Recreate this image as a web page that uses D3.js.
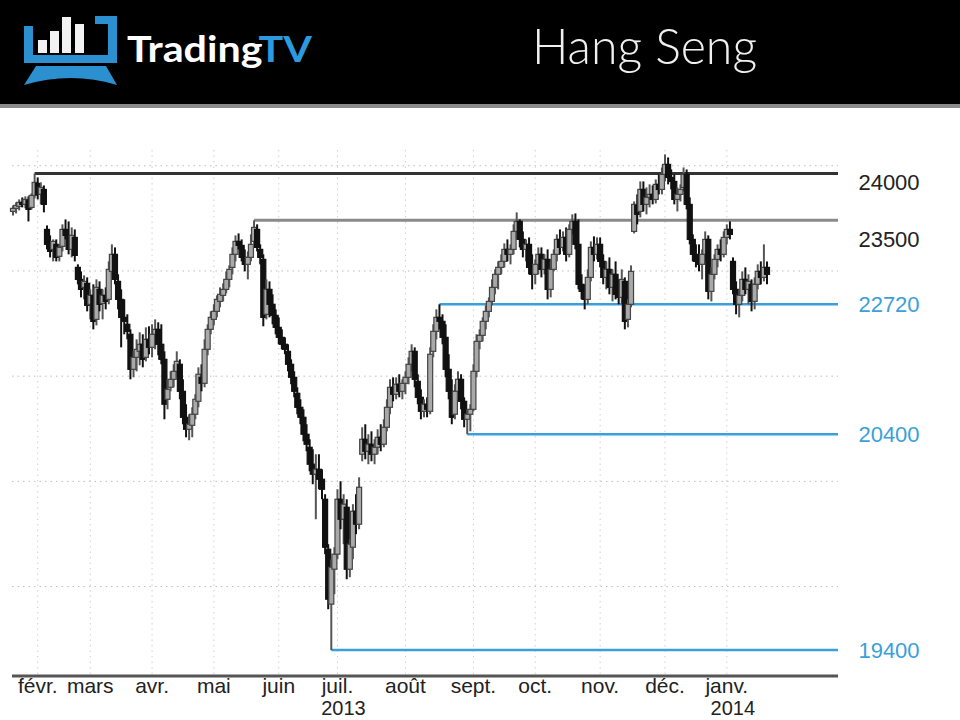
<!DOCTYPE html>
<html>
<head>
<meta charset="utf-8">
<script src="https://cdn.jsdelivr.net/npm/d3@7"></script>
<style>
  html, body { margin: 0; padding: 0; background: #fff; }
  svg { display: block; }
</style>
</head>
<body>
<div id="chart"></div>
<script>
// Hang Seng daily candles, late Jan 2013 -> late Jan 2014, [open, high, low, close]
const candles = [
  [23566,23623,23528,23595],[23595,23652,23547,23623],[23614,23680,23576,23652],[23652,23699,23604,23633],[23633,23709,23595,23680],
  [23671,23709,23471,23585],[23604,23737,23585,23718],[23718,23927,23690,23842],[23832,23889,23680,23728],[23728,23842,23633,23794],
  [23775,23813,23557,23633],[23395,23433,23205,23253],[23262,23338,23129,23186],[23205,23300,23091,23281],[23253,23300,23091,23129],
  [23139,23253,23091,23224],[23234,23443,23186,23395],[23395,23490,23300,23338],[23338,23471,23158,23205],[23205,23414,23129,23338],
  [23319,23395,23091,23148],[23034,23063,22873,22920],[22920,22996,22749,22825],[22844,22958,22730,22901],[22882,22939,22616,22673],
  [22683,22825,22540,22768],[22768,22873,22445,22521],[22540,22920,22483,22844],[22825,22901,22616,22683],[22692,22825,22540,22768],
  [22768,22844,22635,22711],[22730,23091,22683,23015],[22996,23253,22939,23158],[23158,23224,22873,22920],[22901,22968,22635,22730],
  [22730,22825,22274,22559],[22559,22730,22398,22521],[22493,22588,22350,22426],[22398,22445,21970,22065],[22065,22236,21989,22179],
  [22179,22350,22046,22255],[22236,22417,22103,22303],[22303,22398,22084,22160],[22179,22464,22141,22350],[22350,22474,22208,22274],
  [22274,22493,22179,22398],[22398,22540,22255,22445],[22445,22512,22198,22303],[22303,22493,22113,22160],[22160,22236,21590,21733],
  [21780,21970,21685,21875],[21894,22046,21856,21970],[21970,22113,21894,22046],[22046,22236,21989,22141],[22113,22160,21780,21856],
  [21856,21970,21543,21609],[21609,21733,21419,21495],[21495,21638,21391,21543],[21533,21704,21419,21638],[21638,21828,21590,21780],
  [21761,22084,21704,22018],[21989,22113,21856,21932],[21932,22350,21894,22255],[22255,22493,22198,22445],[22445,22616,22398,22559],
  [22540,22683,22483,22616],[22616,22768,22559,22730],[22711,22844,22654,22778],[22768,22882,22711,22825],[22825,22996,22787,22920],
  [22920,23053,22844,23015],[23034,23224,22968,23158],[23158,23338,23091,23281],[23281,23357,23205,23243],[23243,23300,23091,23129],
  [23129,23205,22996,23063],[23063,23186,22920,23129],[23129,23348,23091,23253],[23281,23481,23224,23414],[23395,23443,23186,23224],
  [23205,23253,23063,23129],[23110,23158,22474,22559],[22588,22920,22540,22825],[22825,22901,22559,22683],[22683,22778,22493,22578],
  [22578,22635,22398,22464],[22464,22559,22303,22369],[22369,22445,22255,22303],[22303,22369,22208,22255],[22236,22303,22046,22113],
  [22113,22160,21923,21989],[21989,22046,21799,21856],[21837,21894,21638,21704],[21704,21780,21543,21609],[21609,21685,21381,21448],
  [21448,21543,21286,21353],[21324,21400,21096,21163],[21163,21305,20973,21068],[21068,21258,20640,21115],[21115,21258,20925,21020],
  [21020,21115,20830,20925],[20830,20878,20308,20374],[20355,20403,19785,19880],[19833,20260,19396,20184],[20165,20374,19928,20308],
  [20308,20925,20260,20830],[20830,21001,20545,20640],[20640,20878,20403,20783],[20754,20830,20070,20165],[20165,20450,20089,20403],
  [20374,20783,20260,20716],[20716,20878,20498,20593],[20593,21039,20545,20944],[21258,21514,21191,21400],[21400,21543,21210,21286],
  [21286,21448,21163,21353],[21353,21476,21191,21258],[21258,21400,21163,21324],[21324,21495,21258,21419],[21419,21543,21286,21353],
  [21353,21590,21324,21514],[21514,21780,21476,21704],[21704,21970,21638,21894],[21894,21989,21761,21828],[21828,21989,21780,21923],
  [21923,22018,21799,21856],[21856,21970,21780,21932],[21932,22046,21828,21989],[21989,22179,21923,22113],[22113,22303,22046,22236],
  [22236,22274,21894,21970],[21951,22018,21733,21799],[21799,21875,21590,21666],[21666,21780,21609,21733],[21733,21799,21609,21685],
  [21666,22274,21638,22208],[22236,22493,22179,22426],[22426,22635,22350,22559],[22559,22683,22445,22521],[22521,22588,22303,22369],
  [22369,22493,21989,22065],[22065,22208,21780,21856],[21856,21970,21543,21609],[21638,21923,21590,21856],[21856,22046,21780,21970],
  [21970,22018,21685,21761],[21761,21799,21514,21590],[21590,21685,21448,21638],[21638,21733,21476,21685],[21685,22113,21666,22046],
  [22046,22398,21989,22331],[22331,22445,22255,22388],[22388,22559,22331,22521],[22521,22673,22445,22616],[22616,22749,22559,22711],
  [22711,22920,22673,22844],[22844,23015,22778,22968],[22968,23091,22825,23034],[23034,23158,22968,23091],[23091,23262,23034,23205],
  [23205,23300,23091,23158],[23158,23253,23063,23205],[23205,23443,23158,23376],[23376,23557,23300,23471],[23471,23490,23224,23300],
  [23300,23376,23129,23205],[23205,23300,23091,23253],[23253,23319,22968,23034],[23034,23158,22825,22968],[22968,23110,22873,23063],
  [23063,23224,22968,23158],[23158,23224,22939,23015],[23015,23158,22968,23110],[23110,23205,22730,22825],[22825,23091,22749,23015],
  [23015,23205,22996,23158],[23158,23348,23091,23300],[23300,23395,23158,23224],[23224,23376,23186,23319],[23319,23414,23091,23158],
  [23158,23443,23129,23395],[23395,23538,23348,23471],[23471,23547,23205,23253],[23253,23490,22825,22873],[22873,22968,22730,22806],
  [22806,22873,22635,22730],[22730,23015,22683,22939],[22939,23281,22901,23224],[23224,23329,23091,23158],[23158,23319,23110,23253],
  [23253,23319,23034,23091],[23091,23158,22873,22939],[22939,23091,22825,23015],[23015,23129,22778,22844],[22844,23015,22711,22968],
  [22968,23091,22730,22778],[22778,22920,22683,22749],[22749,23015,22683,22920],[22901,22939,22445,22521],[22540,22730,22464,22683],
  [22683,23053,22654,22996],[23376,23661,23357,23633],[23623,23728,23443,23538],[23566,23851,23509,23775],[23775,23851,23566,23633],
  [23633,23794,23538,23699],[23699,23823,23604,23728],[23728,23813,23633,23680],[23680,23870,23642,23823],[23823,23918,23728,23775],
  [23775,23984,23728,23918],[23918,24108,23851,24013],[24013,24079,23823,23889],[23889,23965,23775,23851],[23851,23918,23633,23680],
  [23680,23794,23566,23728],[23728,23823,23661,23775],[23794,23984,23756,23918],[23918,23965,23585,23633],[23633,23699,23253,23300],
  [23300,23348,23091,23158],[23158,23253,23034,23091],[23129,23253,22996,23063],[23063,23205,22920,23158],[23158,23376,23091,23300],
  [23300,23338,22730,22806],[22806,23034,22711,22968],[22968,23158,22920,23110],[23110,23253,23034,23205],[23205,23300,23091,23158],
  [23158,23376,23129,23319],[23319,23443,23253,23395],[23395,23471,23300,23348],[23091,23129,22778,22825],[22825,22901,22588,22683],
  [22683,22825,22559,22768],[22768,22996,22711,22920],[22920,23034,22778,22825],[22825,22968,22683,22901],[22873,22920,22616,22711],
  [22711,22939,22635,22873],[22873,23063,22825,22996],[22996,23091,22873,22939],[22939,23253,22901,23034],[23034,23091,22873,22968]
];

// x axis: month names and the candle index where each month starts
const months = ["févr.", "mars", "avr.", "mai", "juin", "juil.", "août", "sept.", "oct.", "nov.", "déc.", "janv."];
const monthStart = [8, 25, 45, 65, 86, 105, 127, 149, 169, 190, 211, 231];
const years = ["2013", "2014"];
const yearStart = [105, 231];

// dotted price grid
const priceTicks = [20000, 21000, 22000, 23000, 24000];

// support / resistance levels drawn on the chart
const levelValues = [23927, 23481, 22683, 21448, 19396];
const levelLabels = ["24000", "23500", "22720", "20400", "19400"];
const levelFrom = [7, 78, 138, 147, 103];

const width = 960, height = 720;
const blue = "#3a9fdb";
const plot = { left: 12, right: 838, top: 110, bottom: 676 };

const svg = d3.select("#chart").append("svg")
    .attr("width", width)
    .attr("height", height);

svg.append("rect").attr("width", width).attr("height", height).attr("fill", "#fff");

// ---------- header band ----------
svg.append("rect").attr("width", width).attr("height", 105).attr("fill", "#000");
svg.append("rect").attr("y", 104).attr("width", width).attr("height", 4).attr("fill", "#8a8a8a");

const logo = svg.append("g");
logo.append("path")
    .attr("d", "M24,26 H33 V55 H108 V24 H95 V16 H117 V63 H24 Z")
    .attr("fill", "#2b8fd0");
logo.append("path")
    .attr("d", "M36,66 H106 L117,85 Q71,71 24,85 Z")
    .attr("fill", "#2b8fd0");
logo.selectAll("rect.bar")
    .data([[38, 40], [50, 31], [62, 17], [75, 24]])
    .enter().append("rect")
    .attr("class", "bar")
    .attr("x", d => d[0])
    .attr("y", d => d[1])
    .attr("width", 9)
    .attr("height", d => 53 - d[1])
    .attr("fill", "#f2f2f2");

const brand = svg.append("text")
    .attr("x", 127).attr("y", 62)
    .attr("font-family", "Lato, 'Open Sans', sans-serif")
    .attr("font-weight", 700)
    .attr("font-size", 36)
    .attr("textLength", 185)
    .attr("lengthAdjust", "spacingAndGlyphs");
brand.append("tspan").attr("fill", "#fff").text("Trading");
brand.append("tspan").attr("fill", "#2b9ade").text("TV");

svg.append("text")
    .attr("x", 532).attr("y", 64)
    .attr("font-family", "Lato, 'Open Sans', sans-serif")
    .attr("font-weight", 300)
    .attr("font-size", 50)
    .attr("fill", "#f0f0f0")
    .attr("textLength", 225)
    .attr("lengthAdjust", "spacingAndGlyphs")
    .text("Hang Seng");

// ---------- scales ----------
const x = d3.scaleLinear()
    .domain([0, candles.length - 1])
    .range([13, 767]);

const y = d3.scaleLinear()
    .domain([19150, 24530])
    .range([plot.bottom, plot.top]);

// ---------- grid ----------
svg.append("g").selectAll("line")
    .data(priceTicks)
    .enter().append("line")
    .attr("x1", plot.left).attr("x2", plot.right)
    .attr("y1", d => y(d)).attr("y2", d => y(d))
    .attr("stroke", "#bdbdbd")
    .attr("stroke-width", 1)
    .attr("stroke-dasharray", "1.5,4");

svg.append("g").selectAll("line")
    .data(monthStart)
    .enter().append("line")
    .attr("x1", d => x(d)).attr("x2", d => x(d))
    .attr("y1", plot.top + 40).attr("y2", plot.bottom)
    .attr("stroke", "#d0d0d0")
    .attr("stroke-width", 1)
    .attr("stroke-dasharray", "1.5,4");

// ---------- level lines ----------
const levelColor = ["#333", "#8a8a8a", blue, blue, blue];
const labelColor = ["#222", "#222", blue, blue, blue];
const labelShift = [9, 19, 0, 0, 0];

svg.append("g").selectAll("line")
    .data(levelValues)
    .enter().append("line")
    .attr("x1", (d, i) => x(levelFrom[i])).attr("x2", plot.right)
    .attr("y1", d => y(d)).attr("y2", d => y(d))
    .attr("stroke", (d, i) => levelColor[i])
    .attr("stroke-width", (d, i) => i < 2 ? 3 : 2.5);

svg.append("g").selectAll("text")
    .data(levelValues)
    .enter().append("text")
    .attr("x", 889)
    .attr("y", (d, i) => y(d) + labelShift[i])
    .attr("dy", "0.35em")
    .attr("text-anchor", "middle")
    .attr("font-family", "'Liberation Sans Narrow', 'Arial Narrow', sans-serif")
    .attr("font-size", 22)
    .attr("fill", (d, i) => labelColor[i])
    .text((d, i) => levelLabels[i]);

// ---------- candles ----------
const bars = candles.map((c, i) => ({ i: i, open: c[0], high: c[1], low: c[2], close: c[3] }));
const isUp = d => d.close >= d.open;

const candle = svg.append("g").selectAll("g")
    .data(bars)
    .enter().append("g");

candle.append("line")
    .attr("x1", d => x(d.i)).attr("x2", d => x(d.i))
    .attr("y1", d => y(d.high)).attr("y2", d => y(d.low))
    .attr("stroke", d => isUp(d) ? "#555" : "#111")
    .attr("stroke-width", 2);

candle.append("rect")
    .attr("x", d => x(d.i) - 2.5)
    .attr("width", 5)
    .attr("y", d => y(Math.max(d.open, d.close)))
    .attr("height", d => Math.max(2, Math.abs(y(d.open) - y(d.close))))
    .attr("fill", d => isUp(d) ? "#a9a9a9" : "#111")
    .attr("stroke", d => isUp(d) ? "#444" : "#111")
    .attr("stroke-width", 1.2);

// ---------- x axis ----------
svg.append("line")
    .attr("x1", plot.left).attr("x2", plot.right)
    .attr("y1", plot.bottom).attr("y2", plot.bottom)
    .attr("stroke", "#555")
    .attr("stroke-width", 3);

svg.append("g").selectAll("text")
    .data(months)
    .enter().append("text")
    .attr("x", (d, i) => x(monthStart[i]))
    .attr("y", 693)
    .attr("text-anchor", "middle")
    .attr("font-family", "'Liberation Sans Narrow', 'Arial Narrow', sans-serif")
    .attr("font-size", 21)
    .attr("fill", "#222")
    .text(d => d);

svg.append("g").selectAll("text")
    .data(years)
    .enter().append("text")
    .attr("x", (d, i) => x(yearStart[i]) + 6)
    .attr("y", 715)
    .attr("text-anchor", "middle")
    .attr("font-family", "'Liberation Sans Narrow', 'Arial Narrow', sans-serif")
    .attr("font-size", 20)
    .attr("fill", "#222")
    .text(d => d);
</script>
</body>
</html>
